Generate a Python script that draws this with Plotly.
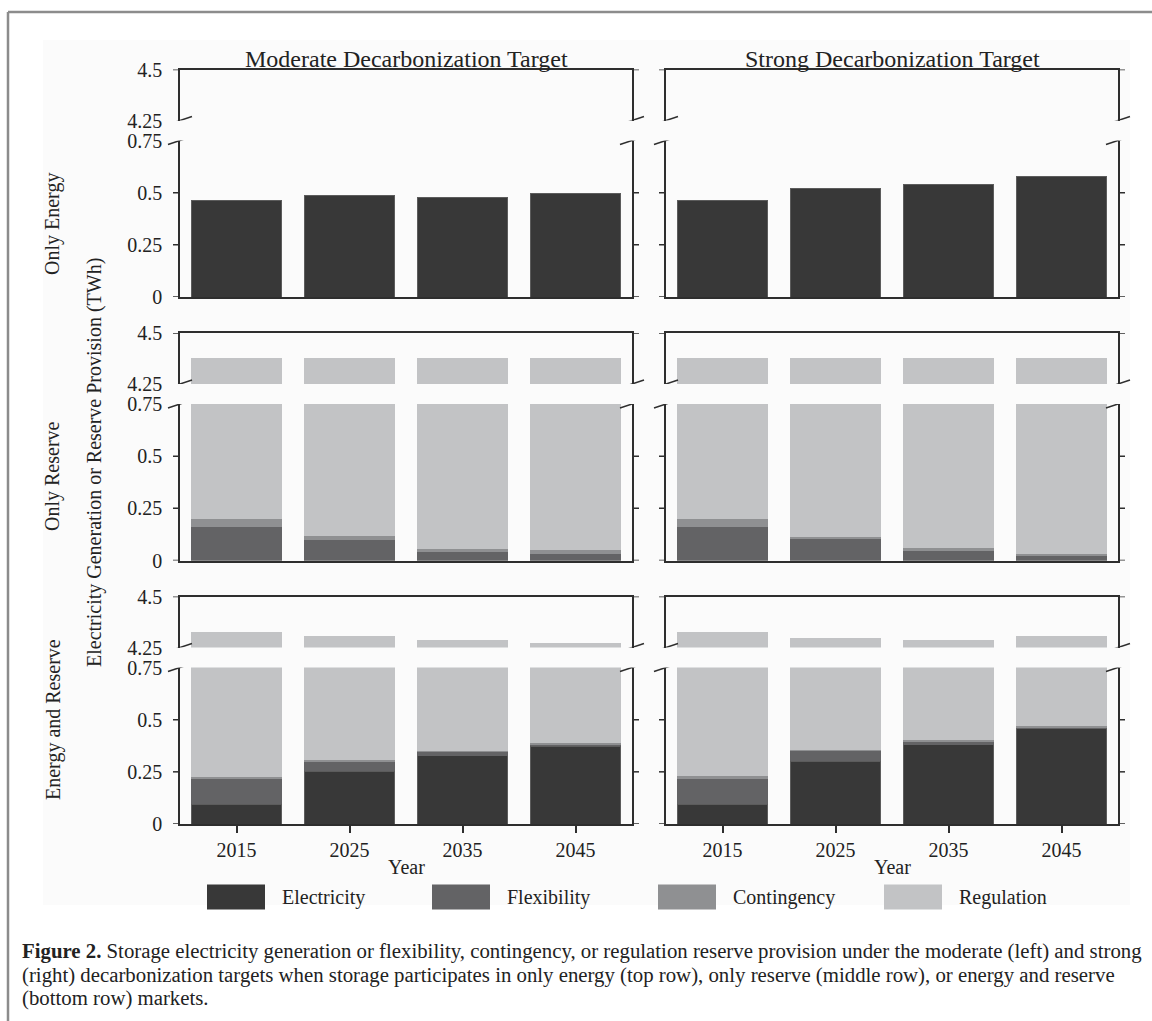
import plotly.graph_objects as go

# ---- data -----------------------------------------------------------------
years = ["2015", "2025", "2035", "2045"]
series_names = ["Electricity", "Flexibility", "Contingency", "Regulation"]
series_colors = ["#383838", "#636365", "#8f9092", "#c2c3c5"]

# Only energy market (TWh)
oe_mod_elec = [0.462, 0.486, 0.478, 0.494]
oe_str_elec = [0.462, 0.521, 0.537, 0.577]

# Only reserve market (TWh)
or_mod_flex = [0.159, 0.100, 0.042, 0.032]
or_mod_cont = [0.041, 0.016, 0.014, 0.018]
or_mod_reg = [4.178, 4.262, 4.322, 4.328]
or_str_flex = [0.159, 0.107, 0.044, 0.025]
or_str_cont = [0.041, 0.008, 0.015, 0.004]
or_str_reg = [4.178, 4.263, 4.319, 4.349]

# Energy and reserve markets (TWh)
er_mod_elec = [0.095, 0.252, 0.328, 0.373]
er_mod_flex = [0.120, 0.051, 0.021, 0.011]
er_mod_cont = [0.011, 0.003, 0.002, 0.002]
er_mod_reg = [4.102, 3.998, 3.935, 3.884]
er_str_elec = [0.095, 0.300, 0.379, 0.458]
er_str_flex = [0.120, 0.054, 0.018, 0.009]
er_str_cont = [0.013, 0.002, 0.005, 0.005]
er_str_reg = [4.100, 3.942, 3.886, 3.832]

zero = [0, 0, 0, 0]
panels = [
    [[oe_mod_elec, zero, zero, zero], [oe_str_elec, zero, zero, zero]],
    [[zero, or_mod_flex, or_mod_cont, or_mod_reg], [zero, or_str_flex, or_str_cont, or_str_reg]],
    [[er_mod_elec, er_mod_flex, er_mod_cont, er_mod_reg], [er_str_elec, er_str_flex, er_str_cont, er_str_reg]],
]

col_titles = ["Moderate Decarbonization Target", "Strong Decarbonization Target"]
row_titles = ["Only Energy", "Only Reserve", "Energy and Reserve"]
y_title = "Electricity Generation or Reserve Provision (TWh)"
x_title = "Year"
upper_range = [4.25, 4.5]
lower_range = [0, 0.75]
upper_ticks = [4.25, 4.5]
lower_ticks = [0, 0.25, 0.5, 0.75]
upper_ticktext = ["4.25", "4.5"]
lower_ticktext = ["0", "0.25", "0.5", "0.75"]

caption_lines = [
    "<b>Figure 2.</b> Storage electricity generation or flexibility, contingency, or regulation reserve provision under the moderate (left) and strong",
    "(right) decarbonization targets when storage participates in only energy (top row), only reserve (middle row), or energy and reserve",
    "(bottom row) markets.",
]

# ---- layout geometry (pixels) --------------------------------------------
W, H = 1152, 1021
FONT = "Liberation Serif"
INK = "#2e2e2e"
LW = 1.5
# per row: upper top, upper bottom, lower top, lower bottom
ROW_PX = [(69.5, 120.5, 140.5, 297.0), (333.0, 384.0, 404.0, 560.5), (596.5, 647.5, 667.5, 824.0)]
COL_PX = [(180.0, 632.0), (666.0, 1118.0)]


def px_x(v):
    return v / W


def px_y(v):
    return 1 - v / H


fig = go.Figure()
layout_axes = {}
shapes = []
annotations = []

for r in range(3):
    for c in range(2):
        base = (r * 2 + c) * 2 + 1
        lo, up = base, base + 1
        x0p, x1p = COL_PX[c]
        ut, ub, lt, lb = ROW_PX[r]
        xdom = [px_x(x0p), px_x(x1p)]

        for idx, ydom, yrng, tv, tt, is_lower in [
            (lo, [px_y(lb), px_y(lt)], lower_range, lower_ticks, lower_ticktext, True),
            (up, [px_y(ub), px_y(ut)], upper_range, upper_ticks, upper_ticktext, False),
        ]:
            xa = "xaxis" if idx == 1 else f"xaxis{idx}"
            ya = "yaxis" if idx == 1 else f"yaxis{idx}"
            xref = "x" if idx == 1 else f"x{idx}"
            yref = "y" if idx == 1 else f"y{idx}"
            bottom_row = is_lower and r == 2
            layout_axes[xa] = dict(
                domain=xdom, anchor=yref, type="category",
                categoryorder="array", categoryarray=years, range=[-0.5, 3.5],
                showline=True, linecolor=INK, linewidth=LW, mirror=False,
                side="bottom" if is_lower else "top",
                ticks="outside" if bottom_row else "", ticklen=7, tickwidth=LW, tickcolor=INK,
                showticklabels=bottom_row, showgrid=False, zeroline=False, automargin=False,
                tickfont=dict(family=FONT, size=20, color="#222"),
            )
            layout_axes[ya] = dict(
                domain=ydom, anchor=xref, range=yrng, tickmode="array",
                tickvals=tv, ticktext=tt, showticklabels=(c == 0),
                ticks="outside", ticklen=12, tickcolor="rgba(0,0,0,0)",
                showline=True, linecolor=INK, linewidth=LW, mirror=True,
                showgrid=False, zeroline=False, automargin=False,
                tickfont=dict(family=FONT, size=20, color="#222"),
            )

            # stacked bars for this panel section
            for s in range(4):
                fig.add_trace(go.Bar(
                    x=years, y=panels[r][c][s], name=series_names[s],
                    marker=dict(color=series_colors[s],
                                line=dict(width=1 if s == 0 else 0, color="#5c5c5c")),
                    xaxis=xref, yaxis=yref, showlegend=False, hoverinfo="y+name",
                ))

            # visible y tick marks (the broken ends get slashes instead)
            plain = [v for v in tv if v not in (0.75, 4.25)]
            for v in plain:
                for anchor, a, b in [(x0p, -7, 0), (x1p, 0, 7)]:
                    shapes.append(dict(
                        type="line", xref="paper", xsizemode="pixel", xanchor=px_x(anchor),
                        x0=a, x1=b, yref=yref, y0=v, y1=v,
                        line=dict(color=INK, width=LW),
                    ))
            # axis-break slashes, rising to the right
            brk = 0.75 if is_lower else 4.25
            for anchor in (x0p, x1p):
                shapes.append(dict(
                    type="line", xref="paper", xsizemode="pixel", xanchor=px_x(anchor),
                    x0=-12, x1=12, yref=yref, ysizemode="pixel", yanchor=brk,
                    y0=-4, y1=4, line=dict(color=INK, width=LW),
                ))

# ---- text ------------------------------------------------------------------
col_centers = [(a + b) / 2 for a, b in COL_PX]
for c in range(2):
    annotations.append(dict(text=col_titles[c], x=px_x(col_centers[c]), y=px_y(59),
                            xref="paper", yref="paper", showarrow=False,
                            xanchor="center", yanchor="middle",
                            font=dict(family=FONT, size=24, color="#222")))
    annotations.append(dict(text=x_title, x=px_x(col_centers[c]), y=px_y(867),
                            xref="paper", yref="paper", showarrow=False,
                            xanchor="center", yanchor="middle",
                            font=dict(family=FONT, size=20, color="#222")))

row_label_y = [224, 476, 720]
for r in range(3):
    annotations.append(dict(text=row_titles[r], x=px_x(53), y=px_y(row_label_y[r]),
                            xref="paper", yref="paper", showarrow=False, textangle=-90,
                            xanchor="center", yanchor="middle",
                            font=dict(family=FONT, size=20, color="#222")))

annotations.append(dict(text=y_title, x=px_x(94), y=px_y(463),
                        xref="paper", yref="paper", showarrow=False, textangle=-90,
                        xanchor="center", yanchor="middle",
                        font=dict(family=FONT, size=20, color="#222")))

# ---- legend (large swatches) ---------------------------------------------
legend_x = [207, 432, 658, 884]
legend_y = 897
for s in range(4):
    shapes.append(dict(type="rect", xref="paper", yref="paper",
                       x0=px_x(legend_x[s]), x1=px_x(legend_x[s] + 58),
                       y0=px_y(legend_y + 12.5), y1=px_y(legend_y - 12.5),
                       fillcolor=series_colors[s], line=dict(width=0)))
    annotations.append(dict(text=series_names[s], x=px_x(legend_x[s] + 73), y=px_y(legend_y),
                            xref="paper", yref="paper", showarrow=False,
                            xanchor="left", yanchor="middle",
                            font=dict(family=FONT, size=20, color="#222")))

# ---- caption -----------------------------------------------------------------
caption_y = [951, 975, 998]
for line, yy in zip(caption_lines, caption_y):
    annotations.append(dict(text=line, x=px_x(20), y=px_y(yy), xref="paper", yref="paper",
                            showarrow=False, xanchor="left", yanchor="middle", align="left",
                            font=dict(family=FONT, size=20.8, color="#222")))

# ---- page frame and figure panel background ---------------------------------
shapes.insert(0, dict(type="rect", xref="paper", yref="paper", layer="below",
                      x0=px_x(43), x1=px_x(1130), y0=px_y(905), y1=px_y(40),
                      fillcolor="#fbfbfb", line=dict(width=0)))
shapes.append(dict(type="line", xref="paper", yref="paper",
                   x0=px_x(8), x1=px_x(8), y0=px_y(12), y1=-0.05,
                   line=dict(color="#8c8c8c", width=2.5)))
shapes.append(dict(type="line", xref="paper", yref="paper",
                   x0=px_x(8), x1=1.05, y0=px_y(12), y1=px_y(12),
                   line=dict(color="#8c8c8c", width=2.5)))

fig.update_layout(
    width=W, height=H, margin=dict(l=0, r=0, t=0, b=0, pad=0, autoexpand=False),
    paper_bgcolor="white", plot_bgcolor="rgba(0,0,0,0)",
    barmode="stack", bargap=0.195, showlegend=False,
    font=dict(family=FONT, color="#222"),
    shapes=shapes, annotations=annotations,
    **layout_axes,
)

fig.write_html("out.html")
